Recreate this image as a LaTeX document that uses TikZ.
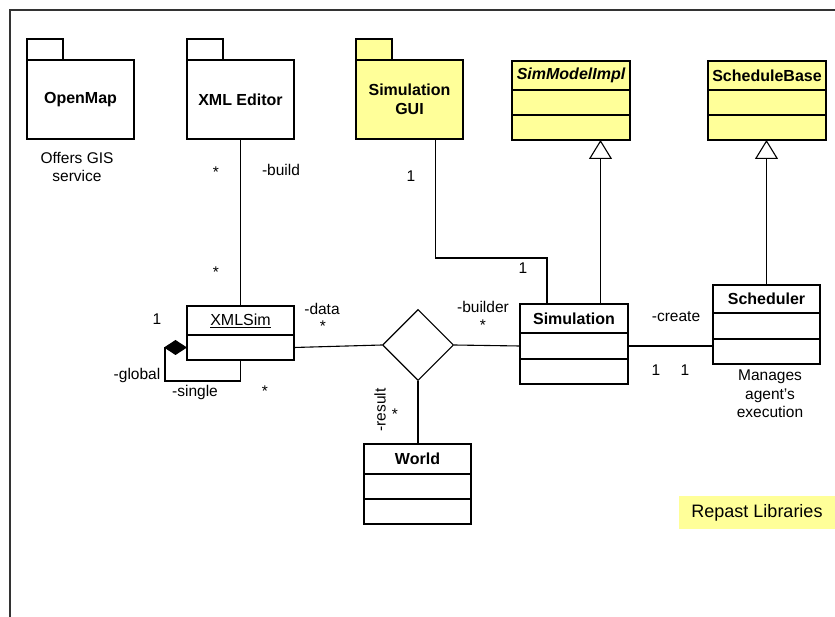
\documentclass[tikz,border=0pt]{standalone}
\usepackage{fontspec}
\setmainfont{Liberation Sans}
\usepackage{xcolor}
\usepackage{tikz}
\usetikzlibrary{positioning,shapes.geometric,arrows.meta}
\definecolor{repastyellow}{RGB}{255,255,153}

\begin{document}
\begin{tikzpicture}[
    x=1pt, y=-1pt,
    line width=1.1pt,
    pkg/.style={rectangle, draw, fill=white, minimum width=107pt, minimum height=79pt, inner sep=0pt, outer sep=0pt, align=center, font=\bfseries\fontsize{16}{19}\selectfont},
    pkgtab/.style={rectangle, draw, fill=white, minimum width=36pt, minimum height=21pt, inner sep=0pt, outer sep=0pt},
    head/.style={rectangle, draw, fill=white, minimum width=107pt, minimum height=29pt, inner sep=0pt, outer sep=0pt, font=\bfseries\fontsize{16}{19}\selectfont},
    compart/.style={rectangle, draw, fill=white, minimum width=107pt, minimum height=25pt, inner sep=0pt, outer sep=0pt},
    lib/.style={fill=repastyellow},
    lbl/.style={inner sep=0pt, align=center, font=\fontsize{15.5}{18.5}\selectfont},
    inherit/.style={-{Triangle[open, length=19pt, width=23pt, fill=white]}},
    aggr/.style={{Diamond[length=23pt, width=15pt]}-}
]
\useasboundingbox (0,0) rectangle (835,617);

% page frame
\draw[line width=2.5pt, black!80] (10,640) |- (850,10);

% packages
\node[pkg] (openmap) at (80.5,99.5) {OpenMap};
\node[pkgtab, above right=0pt of openmap.north west] (openmap-tab) {};
\node[pkg] (xmled) at (240.5,99.5) {XML Editor};
\node[pkgtab, above right=0pt of xmled.north west] (xmled-tab) {};
\node[pkg, lib] (gui) at (409.5,99.5) {Simulation\\GUI};
\node[pkgtab, lib, above right=0pt of gui.north west] (gui-tab) {};

% library classes
\node[head, lib, minimum width=118pt, font=\bfseries\itshape\fontsize{16}{19}\selectfont] (smi) at (571,75.5) {SimModelImpl};
\node[compart, lib, minimum width=118pt, below=0pt of smi] (smi-a) {};
\node[compart, lib, minimum width=118pt, below=0pt of smi-a] (smi-b) {};
\node[head, lib, minimum width=118pt] (sb) at (767,75.5) {ScheduleBase};
\node[compart, lib, minimum width=118pt, below=0pt of sb] (sb-a) {};
\node[compart, lib, minimum width=118pt, below=0pt of sb-a] (sb-b) {};

% model classes
\node[head, font=\fontsize{16}{19}\selectfont] (xmlsim) at (240.5,320.5) {\underline{XMLSim}};
\node[compart, below=0pt of xmlsim] (xmlsim-a) {};
\node[head, minimum width=108pt] (sim) at (574,318.5) {Simulation};
\node[compart, minimum width=108pt, minimum height=26pt, below=0pt of sim] (sim-a) {};
\node[compart, minimum width=108pt, below=0pt of sim-a] (sim-b) {};
\node[head, minimum height=28pt] (sched) at (766.5,299) {Scheduler};
\node[compart, minimum height=26pt, below=0pt of sched] (sched-a) {};
\node[compart, below=0pt of sched-a] (sched-b) {};
\node[head, minimum height=30pt] (world) at (417.5,459) {World};
\node[compart, below=0pt of world] (world-a) {};
\node[compart, below=0pt of world-a] (world-b) {};

\node[diamond, draw, fill=white, minimum width=71pt, minimum height=71pt, inner sep=0pt] (assoc) at (418,345) {};

% connectors
\coordinate (guiout) at ([xshift=26pt]gui.south);
\coordinate (simin) at ([xshift=-27pt]sim.north);
\coordinate (simup) at ([xshift=26.5pt]sim.north);
\draw (xmled) -- (xmlsim);
\draw (guiout) -- ++(0,119) -| (simin);
\draw[inherit] (simup) -- (simup |- smi-b.south);
\draw[inherit] (sched.north) -- (sched.north |- sb-b.south);
\draw (xmlsim-a.east) -- (assoc.west);
\draw (assoc.east) -- (sim-a.west);
\draw (sim-a.east) -- (sim-a.east -| sched-b.west);
\draw (assoc.south) -- (assoc.south |- world.north);
\draw[aggr] (xmlsim-a.west) -- ++(-22,0) -- ++(0,33.5) -| (xmlsim-a.south);

% labels
\node[lbl] (openmap-note) at (77,167) {Offers GIS\\service};
\node[lbl] (sched-note) at (770,394) {Manages\\agent's\\execution};
\node[lbl] (m-build1) at (216,172) {*};
\node[lbl] (r-build) at (281,170) {-build};
\node[lbl] (m-build2) at (216,272) {*};
\node[lbl] (m-gui) at (411,176) {1};
\node[lbl] (m-guisim) at (523,268) {1};
\node[lbl] (m-global) at (157,319) {1};
\node[lbl] (r-global) at (137,375) {-global};
\node[lbl] (r-single) at (195,392) {-single};
\node[lbl] (m-single) at (265,391) {*};
\node[lbl] (r-data) at (322,309) {-data};
\node[lbl] (m-data) at (323,326) {*};
\node[lbl] (r-builder) at (483,307) {-builder};
\node[lbl] (m-builder) at (483,325) {*};
\node[lbl] (r-create) at (676,317) {-create};
\node[lbl] (m-create1) at (656,370) {1};
\node[lbl] (m-create2) at (685,370) {1};
\node[lbl, rotate=90] (r-result) at (380,410) {-result};
\node[lbl] (m-result) at (395,414) {*};

% legend
\node[fill=repastyellow, minimum width=156pt, minimum height=33pt, inner sep=0pt, font=\fontsize{18}{21}\selectfont] (legend) at (757,512.5) {Repast Libraries};

\end{tikzpicture}
\end{document}
